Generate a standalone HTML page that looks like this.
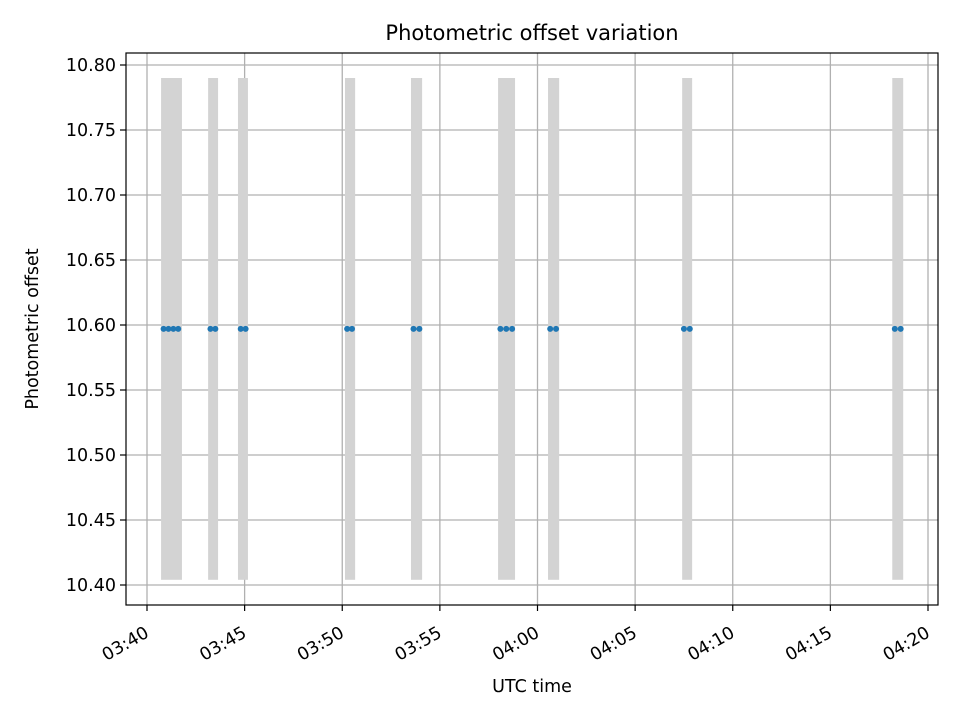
<!DOCTYPE html>
<html><head><meta charset="utf-8"><style>
body{margin:0;background:#fff}
svg text{font-family:"DejaVu Sans","Liberation Sans",sans-serif;fill:#000}
</style></head><body>
<svg id="chart" width="960" height="720" xmlns="http://www.w3.org/2000/svg">
<rect width="960" height="720" fill="#fff"/>
<text x="532" y="40" font-size="21" text-anchor="middle">Photometric offset variation</text>
<g id="grid"></g><g id="bars"></g><g id="pts"></g><g id="axes"></g>
<text x="532" y="692" font-size="17.5" text-anchor="middle">UTC time</text>
<text transform="translate(38,329) rotate(-90)" font-size="17.5" text-anchor="middle">Photometric offset</text>
</svg>
<script>
// minutes after 03:40
const barStarts=[0.72,3.13,4.66,10.14,13.52,17.98,20.54,27.41,38.17];
const barEnds=[1.79,3.64,5.17,10.66,14.09,18.85,21.11,27.92,38.73];
const barLow=10.404, barHigh=10.79;
const pointTimes=[0.85,1.1,1.35,1.6,3.25,3.5,4.8,5.05,10.25,10.5,13.65,13.95,18.1,18.4,18.7,20.65,20.95,27.5,27.8,38.3,38.6];
const pointValues=pointTimes.map(()=>10.597);
const xTickMinutes=[0,5,10,15,20,25,30,35,40];
const xTickLabels=["03:40","03:45","03:50","03:55","04:00","04:05","04:10","04:15","04:20"];
const yTicks=[10.40,10.45,10.50,10.55,10.60,10.65,10.70,10.75,10.80];
const L=126,R=938,T=53,B=605;
const x=t=>147+t*(928-147)/40;
const y=v=>585-(v-10.40)*(585-65)/0.40;
const NS="http://www.w3.org/2000/svg";
function mk(tag,parent,attrs){const e=document.createElementNS(NS,tag);for(const k in attrs)e.setAttribute(k,attrs[k]);document.getElementById(parent).appendChild(e);return e;}
xTickMinutes.forEach((m,i)=>{
 const g=mk('line','grid',{x1:x(m),x2:x(m),y1:T,y2:B,stroke:'#b0b0b0','stroke-width':1.3});
 
 
 const tk=mk('line','axes',{x1:x(m),x2:x(m),y1:B,y2:B+6,stroke:'#000','stroke-width':1.2});
 
 
 const t=mk('text','axes',{x:0,y:0,'font-size':17.5,'text-anchor':'end',transform:`translate(${x(m)+3},${B+31}) rotate(-30)`});
 t.textContent=xTickLabels[i];
 
 
});
yTicks.forEach(v=>{
 const g=mk('line','grid',{x1:L,x2:R,y1:y(v),y2:y(v),stroke:'#b0b0b0','stroke-width':1.3});
 
 
 const tk=mk('line','axes',{x1:L-6,x2:L,y1:y(v),y2:y(v),stroke:'#000','stroke-width':1.2});
 
 
 const t=mk('text','axes',{x:L-10,y:y(v)+6,'font-size':17.5,'text-anchor':'end'});
 t.textContent=v.toFixed(2);
 
 
});
barStarts.forEach((s,i)=>{
 const r=mk('rect','bars',{x:x(s),y:y(barHigh),width:x(barEnds[i])-x(s),height:y(barLow)-y(barHigh),fill:'#d3d3d3'});
 
 
});
pointTimes.forEach((t,i)=>{
 const c=mk('circle','pts',{cx:x(t),cy:y(pointValues[i]),r:3,fill:'#1f77b4'});
 
 
});
const f=mk('rect','axes',{x:L,y:T,width:R-L,height:B-T,fill:'none',stroke:'#000','stroke-width':1.2});


</script>
</body></html>
